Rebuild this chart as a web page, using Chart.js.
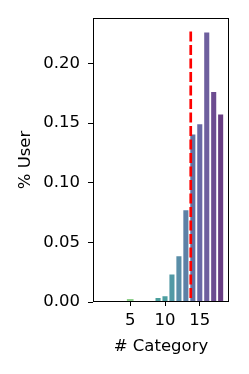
<!DOCTYPE html>
<html>
<head>
<meta charset="utf-8">
<script src="https://cdn.jsdelivr.net/npm/chart.js@4"></script>
<style>
  html, body { margin: 0; padding: 0; background: #fff; }
</style>
</head>
<body>
<canvas id="chart" width="249" height="374"></canvas>
<script>
const categories = [1, 2, 3, 4, 5, 6, 7, 8, 9, 10, 11, 12, 13, 14, 15, 16, 17, 18];
const userShare = [0, 0, 0, 0, 0.0025, 0, 0, 0, 0.004, 0.0054, 0.0238, 0.039, 0.0776, 0.141, 0.1496, 0.2266, 0.1767, 0.1577];
const barColors = [
    "#8ed08b", "#8ed08b", "#8ed08b", "#8ed08b", "#8ed08b", "#6cc09a", "#5bb09e", "#4fa59e",
    "#4a9f9c", "#4c9ea0", "#5199a5", "#5a8ea8", "#5d80a6", "#6472a3", "#6a69a5", "#6e5f9e",
    "#6c4c90", "#683d82"
];
const xTicks = [5, 10, 15];
const yTicks = [0, 0.05, 0.10, 0.15, 0.20];
const cutoff = 13.7;
const cutoffTop = 0.2266;

const font = { family: "DejaVu Sans", size: 16.5 };

// box around the plot area
const frame = {
    id: "frame",
    afterDatasetsDraw(chart) {
        const a = chart.chartArea;
        const c = chart.ctx;
        const l = Math.round(a.left) + 0.5, r = Math.round(a.right) - 0.5;
        const t = Math.round(a.top) + 0.5, b = Math.round(a.bottom) - 0.5;
        c.save();
        c.strokeStyle = "#000";
        c.lineWidth = 1;
        c.strokeRect(l, t, r - l, b - t);
        c.restore();
    }
};

new Chart(document.getElementById("chart"), {
    data: {
        datasets: [
            {
                type: "line",
                data: [{ x: cutoff, y: cutoffTop }, { x: cutoff, y: 0 }],
                borderColor: "#ff0000",
                borderWidth: 2.7,
                borderDash: [10, 3.5],
                pointRadius: 0,
                order: 0
            },
            {
                type: "bar",
                data: categories.map((c, i) => ({ x: c, y: userShare[i] })),
                backgroundColor: barColors,
                borderColor: "rgba(255,255,255,0.85)",
                borderWidth: ctx => (userShare[ctx.dataIndex] > 0.003 ? 0.8 : 0),
                barPercentage: 0.96,
                categoryPercentage: 1,
                order: 1
            }
        ]
    },
    options: {
        responsive: false,
        animation: false,
        layout: { padding: { top: 18, right: 20, left: 0, bottom: 0 } },
        plugins: { legend: { display: false }, tooltip: { enabled: false } },
        scales: {
            x: {
                type: "linear",
                offset: false,
                min: -0.35,
                max: 19.2,
                afterBuildTicks: s => { s.ticks = xTicks.map(v => ({ value: v })); },
                afterFit: s => { s.height = 72; },
                grid: { offset: false, drawOnChartArea: false, color: "#000", tickLength: 4 },
                border: { display: false },
                ticks: { font, color: "#000", padding: 5, maxRotation: 0 },
                title: { display: true, text: "# Category", font, color: "#000", padding: { top: 0, bottom: 17 } }
            },
            y: {
                min: 0,
                max: 0.238,
                afterBuildTicks: s => { s.ticks = yTicks.map(v => ({ value: v })); },
                afterFit: s => { s.width = 93; },
                grid: { drawOnChartArea: false, color: "#000", tickLength: 5 },
                border: { display: false },
                ticks: { font, color: "#000", padding: 8, callback: v => v.toFixed(2) },
                title: { display: true, text: "% User", font, color: "#000", padding: { top: 16, bottom: 0 } }
            }
        }
    },
    plugins: [frame]
});
</script>
</body>
</html>
